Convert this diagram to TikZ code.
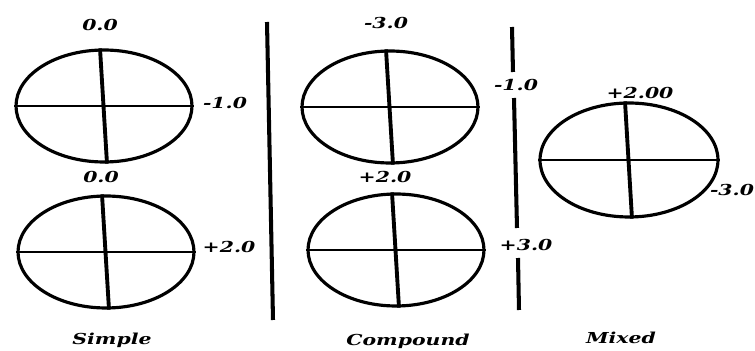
\documentclass[tikz,border=0pt]{standalone}
\usepackage{fontspec}
\usetikzlibrary{shapes.geometric,calc}
\newfontfamily\valfont[FakeStretch=1.35]{DejaVu Serif}

\begin{document}
\begin{tikzpicture}[x=0.02cm, y=-0.02cm,
    lens/.style={draw, ellipse, line width=1.8pt, inner sep=0pt,
                 minimum width=3.52cm, minimum height=2.24cm},
    val/.style={font=\valfont\fontsize{8.6}{10}\selectfont\bfseries\itshape, inner sep=1pt},
    hline/.style={line width=1.5pt},
    vline/.style={line width=2.2pt},
    divider/.style={line width=2.3pt}]
    \useasboundingbox (0,0) rectangle (755,351);
    % the five lenses
    \node[lens] (sa) at (104,106) {};
    \node[lens] (sb) at (106,252) {};
    \node[lens] (ca) at (390,107) {};
    \node[lens] (cb) at (396,250) {};
    \node[lens, minimum width=3.56cm, minimum height=2.28cm] (mx) at (629,160) {};
    % principal meridians
    \foreach \e in {sa,sb,ca,cb,mx} {
        \draw[hline] (\e.west) -- (\e.east);
        \draw[vline] ($(\e.north)+(-4,0)$) -- ($(\e.south)+(3,0)$);
    }
    % powers
    \node[val] (sav) at (100,25) {0.0};
    \node[val] (sah) at (225,103) {-1.0};
    \node[val] (sbv) at (101,177) {0.0};
    \node[val] (sbh) at (229,247) {+2.0};
    \node[val] (cav) at (386,23) {-3.0};
    \node[val] (cah) at (516,85) {-1.0};
    \node[val] (cbv) at (385,177) {+2.0};
    \node[val] (cbh) at (526,245) {+3.0};
    \node[val] (mxv) at (640,93) {+2.00};
    \node[val] (mxh) at (732,190) {-3.0};
    % titles
    \node[val] (simple) at (112,340) {Simple};
    \node[val] (compound) at (408,341) {Compound};
    \node[val] (mixed) at (621,338) {Mixed};
    % dividers
    \coordinate (da) at (267,22);
    \coordinate (db) at (273,320);
    \draw[divider] (da) -- (db);
    \coordinate (d1) at (512,27);
    \coordinate (d2) at (513,72);
    \coordinate (d3) at (514,98);
    \coordinate (d4) at (517,228);
    \coordinate (d5) at (518,258);
    \coordinate (d6) at (519,310);
    \draw[divider] (d1) -- (d2);
    \draw[divider] (d3) -- (d4);
    \draw[divider] (d5) -- (d6);
\end{tikzpicture}
\end{document}
